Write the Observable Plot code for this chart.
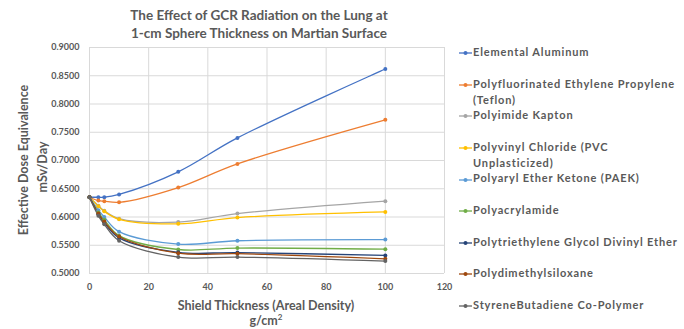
<!DOCTYPE html>
<html>
<head>
<meta charset="utf-8">
<script src="https://cdn.jsdelivr.net/npm/d3@7"></script>
<script src="https://cdn.jsdelivr.net/npm/@observablehq/plot@0.6"></script>
<style>
  html, body { margin: 0; padding: 0; background: #fff; }
  #wrap { position: relative; width: 684px; height: 329px; font-family: Lato, "Open Sans", sans-serif; color: #595959; }
  #wrap > svg { position: absolute; left: 0; top: 0; }
  .t { position: absolute; font-weight: bold; white-space: nowrap; }
  .title { left: 0; width: 518px; text-align: center; font-size: 13.5px; }
  .leg { position: absolute; left: 459px; font-weight: bold; font-size: 11px; letter-spacing: 0.85px; line-height: 16px; white-space: nowrap; }
  #wrap .leg svg { position: static; vertical-align: middle; margin-right: 1px; }
</style>
</head>
<body>
<div id="wrap"></div>
<script>
const thickness = [0, 3, 5, 10, 30, 50, 100];
const seriesNames = [
  "Elemental Aluminum",
  "Polyfluorinated Ethylene Propylene (Teflon)",
  "Polyimide Kapton",
  "Polyvinyl Chloride (PVC Unplasticized)",
  "Polyaryl Ether Ketone (PAEK)",
  "Polyacrylamide",
  "Polytriethylene Glycol Divinyl Ether",
  "Polydimethylsiloxane",
  "StyreneButadiene Co-Polymer"
];
const legendLines = [
  ["Elemental Aluminum"],
  ["Polyfluorinated Ethylene Propylene", "(Teflon)"],
  ["Polyimide Kapton"],
  ["Polyvinyl Chloride (PVC", "Unplasticized)"],
  ["Polyaryl Ether Ketone (PAEK)"],
  ["Polyacrylamide"],
  ["Polytriethylene Glycol Divinyl Ether"],
  ["Polydimethylsiloxane"],
  ["StyreneButadiene Co-Polymer"]
];
const aluminum   = [0.635, 0.635, 0.635, 0.640, 0.680, 0.740, 0.862];
const teflon     = [0.635, 0.629, 0.628, 0.626, 0.652, 0.694, 0.772];
const kapton     = [0.635, 0.620, 0.611, 0.597, 0.591, 0.606, 0.628];
const pvc        = [0.635, 0.619, 0.610, 0.596, 0.588, 0.599, 0.609];
const paek       = [0.635, 0.612, 0.600, 0.574, 0.552, 0.558, 0.560];
const acrylamide = [0.635, 0.608, 0.595, 0.567, 0.5425, 0.545, 0.543];
const ptgde      = [0.635, 0.605, 0.590, 0.563, 0.5375, 0.537, 0.532];
const pdms       = [0.635, 0.606, 0.592, 0.5655, 0.536, 0.535, 0.526];
const sbr        = [0.635, 0.602, 0.587, 0.558, 0.529, 0.529, 0.522];
const allValues = [aluminum, teflon, kapton, pvc, paek, acrylamide, ptgde, pdms, sbr];
const colors = ["#4472C4", "#ED7D31", "#A5A5A5", "#FFC000", "#5B9BD5", "#70AD47", "#264478", "#9E480E", "#636363"];
const xTicks = [0, 20, 40, 60, 80, 100, 120];
const yTicks = [0.5, 0.55, 0.6, 0.65, 0.7, 0.75, 0.8, 0.85, 0.9];

const data = [];
seriesNames.forEach((name, i) => {
  allValues[i].forEach((v, j) => data.push({series: name, x: thickness[j], y: v}));
});

const chart = Plot.plot({
  width: 684,
  height: 329,
  marginLeft: 89,
  marginRight: 240,
  marginTop: 47,
  marginBottom: 56,
  style: {fontFamily: "Lato, 'Open Sans', sans-serif", fontSize: "9px", fontWeight: "bold", color: "#595959", background: "transparent"},
  x: {domain: [0, 120]},
  y: {domain: [0.5, 0.9]},
  color: {domain: seriesNames, range: colors},
  marks: [
    Plot.gridX(xTicks, {stroke: "#d9d9d9", strokeOpacity: 1, strokeWidth: 1}),
    Plot.gridY(yTicks, {stroke: "#d9d9d9", strokeOpacity: 1, strokeWidth: 1}),
    Plot.ruleY([0.5], {stroke: "#d9d9d9"}),
    Plot.axisX({ticks: xTicks, tickSize: 0, tickPadding: 10, label: null, fill: "#595959"}),
    Plot.axisY({ticks: yTicks, tickSize: 0, tickPadding: 10, label: null, tickFormat: d3.format(".4f"), fill: "#595959"}),
    Plot.line(data, {x: "x", y: "y", z: "series", stroke: "series", strokeWidth: 1.3, curve: "catmull-rom"}),
    Plot.dot(data, {x: "x", y: "y", fill: "series", r: 2})
  ]
});

const wrap = document.getElementById("wrap");
wrap.appendChild(chart);

function addText(cls, text, style) {
  const d = document.createElement("div");
  d.className = "t " + cls;
  d.textContent = text;
  Object.assign(d.style, style);
  wrap.appendChild(d);
  return d;
}
addText("title", "The Effect of GCR Radiation on the Lung at", {top: "7px"});
addText("title", "1-cm Sphere Thickness on Martian Surface", {top: "25px"});

// y-axis title (rotated)
addText("", "Effective Dose Equivalence", {fontSize: "12.5px", left: "23px", top: "160px", transform: "translate(-50%,-50%) rotate(-90deg)", transformOrigin: "center"});
addText("", "mSv/Day", {fontSize: "12.5px", left: "42px", top: "167px", transform: "translate(-50%,-50%) rotate(-90deg)", transformOrigin: "center"});

// x-axis title
addText("", "Shield Thickness (Areal Density)", {fontSize: "12.5px", left: "266px", top: "305px", transform: "translate(-50%,-50%)"});
const xt2 = document.createElement("div");
xt2.className = "t";
xt2.innerHTML = "g/cm<sup style='font-size:8px'>2</sup>";
Object.assign(xt2.style, {fontSize: "12.5px", left: "266px", top: "320px", transform: "translate(-50%,-50%)"});
wrap.appendChild(xt2);

// legend
legendLines.forEach((lines, i) => {
  const d = document.createElement("div");
  d.className = "leg";
  d.style.top = (52 + i * 31.6 - 8) + "px";
  const marker = `<svg width="13" height="6"><line x1="0" y1="3" x2="13" y2="3" stroke="${colors[i]}" stroke-width="1.3"/><circle cx="6.5" cy="3" r="2" fill="${colors[i]}"/></svg>`;
  d.innerHTML = marker + lines[0] + (lines[1] ? "<br><span style='margin-left:14px'>" + lines[1] + "</span>" : "");
  wrap.appendChild(d);
});
</script>
</body>
</html>
